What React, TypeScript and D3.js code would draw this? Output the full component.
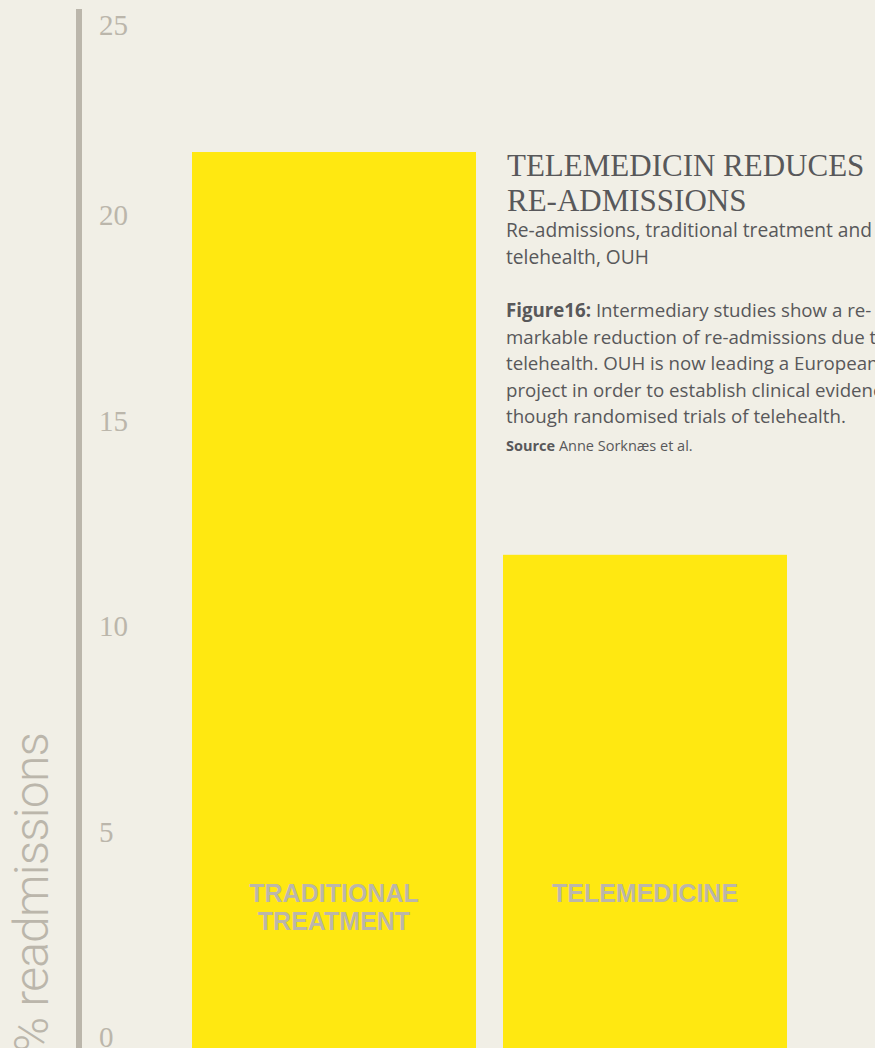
import React from "react";
import * as d3 from "d3";

const categories = ["Traditional treatment", "Telemedicine"];
const barLabels = [["TRADITIONAL", "TREATMENT"], ["TELEMEDICINE"]];
const values = [21.8, 12.0];
const yTicks = [0, 5, 10, 15, 20, 25];
const yTitle = "% readmissions";
const titleLines = ["TELEMEDICIN REDUCES", "RE-ADMISSIONS"];
const subtitleLines = ["Re-admissions, traditional treatment and", "telehealth, OUH"];
const figLabel = "Figure16:";
const bodyLines = [
  " Intermediary studies show a re-",
  "markable reduction of re-admissions due to",
  "telehealth. OUH is now leading a European",
  "project in order to establish clinical evidence",
  "though randomised trials of telehealth.",
];
const sourceLabel = "Source";
const sourceText = " Anne Sorknæs et al.";

const W = 875;
const H = 1048;
const BG = "#f1efe6";
const YELLOW = "#ffe811";
const GREY = "#bbb6ab";
const DARK = "#58585a";

export default function App() {
  const x = d3
    .scaleBand<string>()
    .domain(categories)
    .range([192, 787])
    .paddingInner(27 / 311)
    .paddingOuter(0);
  const y = d3.scaleLinear().domain([0, 25]).range([H, 20.5]);

  const sans = "'Open Sans', 'DejaVu Sans', sans-serif";
  const serif = "'Liberation Serif', 'Times New Roman', serif";

  return (
    <svg
      width={W}
      height={H}
      style={{ position: "absolute", left: 0, top: 0, display: "block" }}
    >
      <rect x={0} y={0} width={W} height={H} fill={BG} />

      {/* y axis line */}
      <line x1={79} x2={79} y1={y(25) - 11.5} y2={H} stroke={GREY} strokeWidth={6} />

      {/* tick labels */}
      {yTicks.map((t) => (
        <text
          key={t}
          x={99}
          y={Math.max(y(t) - 1, 35)}
          fontFamily={serif}
          fontSize={29}
          fill={GREY}
        >
          {t}
        </text>
      ))}

      {/* y title */}
      <text
        transform={`translate(48,733) rotate(-90)`}
        textAnchor="end"
        fontFamily="Roboto, 'Liberation Sans', sans-serif"
        fontWeight={300}
        fontSize={48}
        letterSpacing={-0.8}
        fill={GREY}
      >
        {yTitle}
      </text>

      {/* bars */}
      {categories.map((c, i) => (
        <g key={c}>
          <rect
            x={x(c)}
            y={y(values[i])}
            width={x.bandwidth()}
            height={H - y(values[i])}
            fill={YELLOW}
          />
          <text
            x={(x(c) as number) + x.bandwidth() / 2}
            y={902}
            textAnchor="middle"
            fontFamily="'Liberation Sans', Arial, sans-serif"
            fontWeight={700}
            fontSize={25}
            fill={GREY}
          >
            {barLabels[i].map((l, j) => (
              <tspan key={j} x={(x(c) as number) + x.bandwidth() / 2} dy={j === 0 ? 0 : 28}>
                {l}
              </tspan>
            ))}
          </text>
        </g>
      ))}

      {/* title */}
      <text x={507} y={176} fontFamily={serif} fontSize={31} fill={DARK}>
        {titleLines.map((l, i) => (
          <tspan key={i} x={507} dy={i === 0 ? 0 : 35}>
            {l}
          </tspan>
        ))}
      </text>

      {/* subtitle */}
      <text x={506} y={237} fontFamily={sans} fontSize={19.2} fill={DARK}>
        {subtitleLines.map((l, i) => (
          <tspan key={i} x={506} dy={i === 0 ? 0 : 27}>
            {l}
          </tspan>
        ))}
      </text>

      {/* body */}
      <text x={506} y={317} fontFamily={sans} fontSize={18.7} fill={DARK}>
        <tspan fontWeight={700}>{figLabel}</tspan>
        <tspan>{bodyLines[0]}</tspan>
        {bodyLines.slice(1).map((l, i) => (
          <tspan key={i} x={506} dy={26.5}>
            {l}
          </tspan>
        ))}
      </text>

      {/* source */}
      <text x={506} y={451} fontFamily={sans} fontSize={14.5} fill={DARK}>
        <tspan fontWeight={700}>{sourceLabel}</tspan>
        <tspan>{sourceText}</tspan>
      </text>
    </svg>
  );
}
